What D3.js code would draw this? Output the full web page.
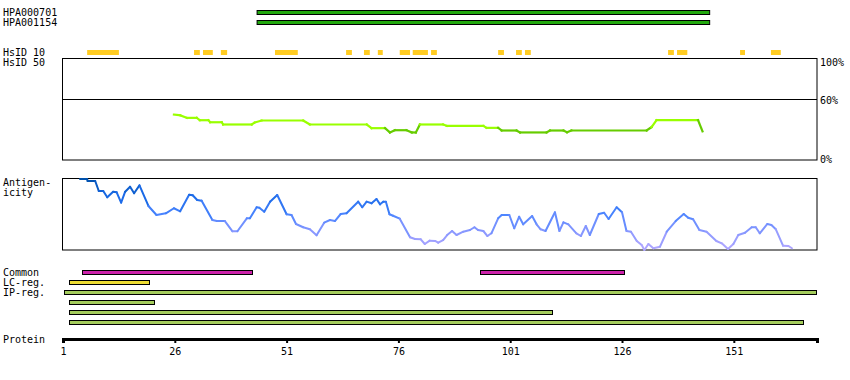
<!DOCTYPE html>
<html><head><meta charset="utf-8">
<script src="https://cdn.jsdelivr.net/npm/d3@7"></script>
<style>
body{margin:0;background:#fff;}
text{font-family:"DejaVu Sans Mono",monospace;font-size:10px;fill:#000;}
</style></head>
<body><svg id="c" width="850" height="380"></svg>
<script>
// ---------- data ----------
const proteinLength = 169.6;
const axisTicks = [1, 26, 51, 76, 101, 126, 151];
const identityTicks = [100, 60, 0];
const identityTickLabels = ["100%", "60%", "0%"];
const hpaLabels = ["HPA000701", "HPA001154"];
const hpaStarts = [44.4, 44.4];
const hpaEnds = [145.6, 145.6];
const hsid10Starts = [6.4, 30.3, 32.3, 36.3, 48.4, 64.3, 68.3, 71.4, 76.3, 79.2, 83.3, 98.3, 102.3, 104.3, 136.3, 138.3, 152.4, 159.3];
const hsid10Ends   = [13.5, 31.6, 34.5, 37.7, 53.5, 65.6, 69.6, 72.5, 78.6, 82.6, 84.6, 99.6, 103.6, 105.6, 137.6, 140.6, 153.5, 161.5];
const identityResidues = [25.8,27.2,28.7,30.9,31.6,33.5,33.9,36.5,36.8,43.2,43.9,45.4,54.7,56.2,68.9,70.0,73.0,74.1,75.2,77.8,79.0,79.9,80.8,86.0,86.8,95.0,95.7,98.3,99.1,102.4,103.2,109.1,109.9,112.9,113.7,114.7,131.5,132.6,133.7,143.0,144.0];
const identityValues   = [45,44.3,41.8,41.8,39.5,39.5,37.5,37.5,35.3,35.3,37.3,39.2,39.2,35.3,35.3,31.7,31.7,27.5,29.7,29.7,27.5,27.5,35.3,35.3,33.9,33.9,32,32,29.4,29.4,27.5,27.5,29.4,29.4,27.6,29.4,29.4,32.7,39.5,39.5,28.5];
const antigenResidues = [4.8,6.4,6.5,8.2,9.0,10.0,10.9,12.2,13.0,14.0,14.9,16.0,16.9,18.1,20.1,21.9,24.0,25.8,27.2,29.2,30.0,31.0,32.0,34.4,35.4,37.2,38.9,40.0,42.1,42.8,44.3,44.9,46.0,47.3,48.9,51.0,52.1,53.1,54.7,56.2,57.7,59.4,60.7,61.8,63.1,64.4,67.0,67.9,68.9,70.0,71.1,71.9,72.6,73.2,74.0,74.8,76.3,78.6,79.7,81.0,81.9,83.0,84.2,84.9,86.0,86.9,88.0,89.0,90.5,92.0,93.0,93.8,95.0,95.9,96.8,98.3,99.1,100.8,101.9,103.0,103.9,105.9,106.9,107.8,108.9,111.0,112.0,112.9,114.0,115.8,116.8,117.9,118.8,120.8,122.0,123.0,124.8,126.0,127.0,128.0,129.3,130.4,131.0,131.9,133.0,134.5,136.0,138.0,139.8,140.8,141.9,143.3,144.9,147.1,148.3,149.7,150.9,152.0,153.5,155.0,155.9,156.8,158.5,159.4,160.4,162.0,163.2,164.0];
const antigenValues   = [99,99,96.2,96.2,82.3,82.3,73.5,81.3,80.5,66,81.3,88.3,79.1,90.2,61.4,48.8,51.2,58.2,54,77.1,76.3,69.7,68.8,41.8,40.4,40.4,26.1,26.1,44.2,44.2,59.6,59,53.4,67.4,76.7,49.8,48.8,36.3,31.7,28.9,20.5,38.1,41.8,40.4,50.2,51.2,67.4,59.6,67.4,65.1,71.1,63.7,67.4,67.4,49.8,47.8,43.7,17.7,15.3,14.9,8.4,13,12.6,10.2,13.9,20.9,26.5,20.9,25.5,27.9,31.7,27.9,26.5,19.5,23.3,44.2,48.8,48.8,30.3,46.4,35.8,47.4,35.8,28.9,26.5,52.6,26.5,38.6,35.8,23.3,19.5,33.5,20.9,50.2,52,43.2,59.6,52.6,26.5,25.5,12.6,7,0,8.4,2.4,4.6,25.5,40.4,50.2,45,42.8,27.9,25.5,12.6,9.3,1.4,8.4,20.9,24.1,31.7,31.7,23.3,36.3,34.9,28.9,6,5.6,2.4];
const commonStarts = [5.3, 94.3];
const commonEnds   = [43.3, 126.5];
const lcStarts = [2.4];
const lcEnds   = [20.4];
const ipStarts = [1.3, 2.4, 2.4, 2.4];
const ipEnds   = [169.5, 21.4, 110.5, 166.6];
const trackLabels = ["Common", "LC-reg.", "IP-reg."];

// ---------- drawing ----------
const svg = d3.select("#c");
const x = d3.scaleLinear().domain([1, proteinLength]).range([63, 817]);
const yId = d3.scaleLinear().domain([0, 100]).range([160.5, 58.5]);
const yAg = d3.scaleLinear().domain([0, 100]).range([250, 178.3]);

function label(t, px, py) { svg.append("text").attr("x", px).attr("y", py).text(t); }

// HPA bars
hpaLabels.forEach((l, i) => {
  label(l, 3, 16 + i * 10);
  svg.append("rect").attr("x", x(hpaStarts[i])).attr("y", 10.5 + i * 10)
    .attr("width", x(hpaEnds[i]) - x(hpaStarts[i])).attr("height", 4)
    .attr("fill", "#22a80e").attr("stroke", "#000").attr("stroke-width", 1);
});

// HsID
label("HsID 10", 3, 56);
label("HsID 50", 3, 66);
svg.selectAll("rect.hs").data(hsid10Starts).enter().append("rect").attr("class", "hs")
  .attr("x", (d) => x(d)).attr("y", 50)
  .attr("width", (d, i) => x(hsid10Ends[i]) - x(d)).attr("height", 5)
  .attr("fill", "#ffcc22");

// identity box
svg.append("rect").attr("x", 62.5).attr("y", 58.5).attr("width", 754.5).attr("height", 101.5)
  .attr("fill", "none").attr("stroke", "#000");
svg.append("line").attr("x1", 62.5).attr("x2", 817).attr("y1", Math.round(yId(60)) + 0.5).attr("y2", Math.round(yId(60)) + 0.5)
  .attr("stroke", "#000");
const idLabelY = [66, 104, 163];
identityTicks.forEach((t, i) => label(identityTickLabels[i], 820, idLabelY[i]));

const line = d3.line();
for (let i = 0; i < identityResidues.length - 1; i++) {
  const v = Math.min(identityValues[i], identityValues[i + 1]);
  svg.append("path")
    .attr("d", line([[x(identityResidues[i]), yId(identityValues[i])], [x(identityResidues[i + 1]), yId(identityValues[i + 1])]]))
    .attr("stroke", v < 30.5 ? "#66cc00" : "#99ff00").attr("stroke-width", 2.2).attr("fill", "none")
    .attr("stroke-linecap", "square");
}

// antigenicity
label("Antigen-", 3, 186);
label("icity", 3, 196);
svg.append("rect").attr("x", 62.5).attr("y", 178.5).attr("width", 754.5).attr("height", 71.5)
  .attr("fill", "none").attr("stroke", "#000");
const agColor = d3.scaleLinear().domain([0, 25, 50, 75, 100])
  .range(["#b4a8ff", "#8a98ff", "#4a84ff", "#1a6ae8", "#0050aa"]);
for (let i = 0; i < antigenResidues.length - 1; i++) {
  const v = (antigenValues[i] + antigenValues[i + 1]) / 2;
  svg.append("path")
    .attr("d", line([[x(antigenResidues[i]), yAg(antigenValues[i])], [x(antigenResidues[i + 1]), yAg(antigenValues[i + 1])]]))
    .attr("stroke", agColor(v)).attr("stroke-width", 2).attr("fill", "none")
    .attr("stroke-linecap", "round");
}

// region tracks
trackLabels.forEach((l, i) => label(l, 3, 276 + i * 10));
function bars(starts, ends, y0, step, color) {
  starts.forEach((s, i) => {
    svg.append("rect").attr("x", Math.round(x(s)) + 0.5).attr("y", y0 + i * step)
      .attr("width", Math.round(x(ends[i]) - x(s))).attr("height", 4)
      .attr("fill", color).attr("stroke", "#000").attr("stroke-width", 1);
  });
}
bars(commonStarts, commonEnds, 270.5, 0, "#cc22aa");
bars(lcStarts, lcEnds, 280.5, 0, "#eedd33");
bars(ipStarts, ipEnds, 290.5, 10, "#a4cc5c");

// protein axis
label("Protein", 3, 343);
const ax = svg.append("g").attr("transform", "translate(0,339)")
  .call(d3.axisBottom(x).tickValues(axisTicks).tickFormat(d3.format("d")).tickSize(4).tickSizeOuter(4).tickPadding(5));
ax.select(".domain").attr("stroke-width", 3).attr("stroke", "#000");
ax.selectAll(".tick line").attr("stroke-width", 2).attr("stroke", "#000");
ax.selectAll(".tick text").attr("font-family", "DejaVu Sans Mono").attr("font-size", 10).attr("fill", "#000");
</script></body></html>
